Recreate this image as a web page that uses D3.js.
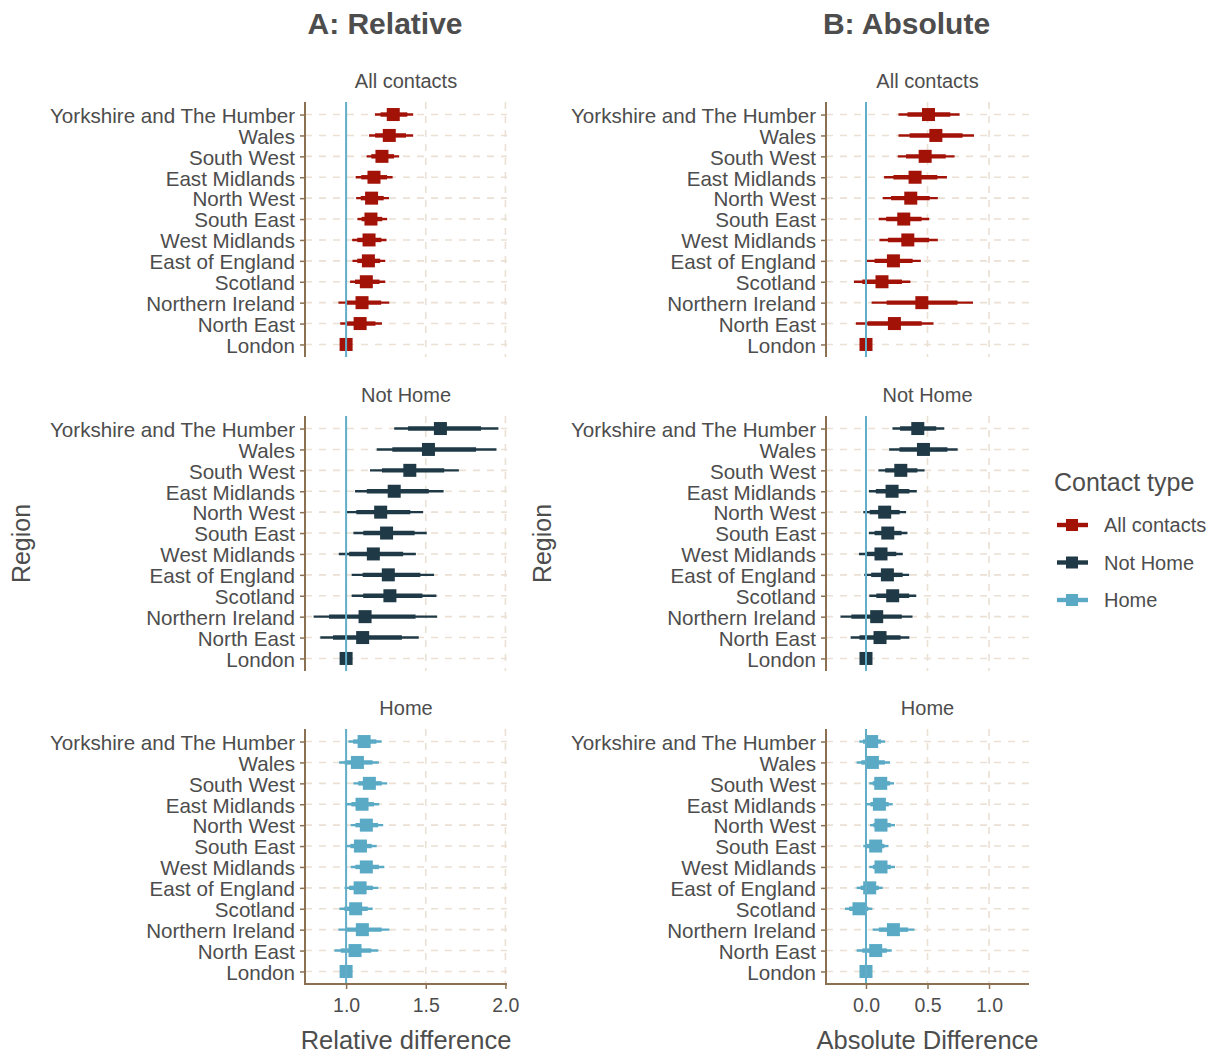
<!DOCTYPE html>
<html>
<head>
<meta charset="utf-8">
<script src="https://cdn.jsdelivr.net/npm/d3@7"></script>
<style>
  html, body { margin: 0; padding: 0; background: #ffffff; }
  svg { display: block; font-family: "Liberation Sans", Arial, sans-serif; }
</style>
</head>
<body>
<svg id="chart" width="1214" height="1053"></svg>
<script>
// Regions, top to bottom
const regions = [
  "Yorkshire and The Humber", "Wales", "South West", "East Midlands",
  "North West", "South East", "West Midlands", "East of England",
  "Scotland", "Northern Ireland", "North East", "London"
];

const contactTypes = ["All contacts", "Not Home", "Home"];

// Each row: [estimate, outer low, outer high, inner low, inner high], in region order
const relativeAll = [
  [1.296, 1.181, 1.421, 1.216, 1.384],
  [1.271, 1.144, 1.421, 1.182, 1.376],
  [1.225, 1.129, 1.333, 1.158, 1.301],
  [1.175, 1.060, 1.292, 1.095, 1.257],
  [1.160, 1.063, 1.269, 1.092, 1.236],
  [1.156, 1.071, 1.258, 1.097, 1.227],
  [1.144, 1.038, 1.254, 1.070, 1.221],
  [1.140, 1.040, 1.246, 1.070, 1.214],
  [1.127, 1.025, 1.246, 1.056, 1.210],
  [1.100, 0.952, 1.271, 0.996, 1.220],
  [1.088, 0.963, 1.225, 1.001, 1.184],
  [1.000, 1.000, 1.000, 1.000, 1.000]
];
const relativeNotHome = [
  [1.592, 1.302, 1.956, 1.389, 1.847],
  [1.517, 1.192, 1.944, 1.290, 1.816],
  [1.400, 1.150, 1.708, 1.225, 1.616],
  [1.302, 1.056, 1.612, 1.130, 1.519],
  [1.217, 0.998, 1.483, 1.064, 1.403],
  [1.254, 1.046, 1.506, 1.108, 1.430],
  [1.171, 0.954, 1.438, 1.019, 1.358],
  [1.265, 1.035, 1.552, 1.104, 1.466],
  [1.275, 1.035, 1.567, 1.107, 1.479],
  [1.119, 0.796, 1.571, 0.893, 1.436],
  [1.104, 0.838, 1.456, 0.918, 1.350],
  [1.000, 1.000, 1.000, 1.000, 1.000]
];
const relativeHome = [
  [1.113, 1.015, 1.223, 1.044, 1.190],
  [1.071, 0.956, 1.206, 0.991, 1.166],
  [1.146, 1.046, 1.258, 1.076, 1.224],
  [1.100, 1.004, 1.208, 1.033, 1.175],
  [1.127, 1.029, 1.233, 1.058, 1.201],
  [1.090, 1.000, 1.192, 1.027, 1.161],
  [1.127, 1.029, 1.240, 1.058, 1.206],
  [1.088, 0.990, 1.202, 1.019, 1.168],
  [1.060, 0.958, 1.167, 0.989, 1.136],
  [1.102, 0.952, 1.271, 0.997, 1.223],
  [1.056, 0.927, 1.202, 0.966, 1.158],
  [1.000, 1.000, 1.000, 1.000, 1.000]
];
const absoluteAll = [
  [0.508, 0.264, 0.761, 0.337, 0.685],
  [0.568, 0.264, 0.878, 0.355, 0.785],
  [0.481, 0.258, 0.720, 0.325, 0.648],
  [0.399, 0.147, 0.658, 0.223, 0.580],
  [0.364, 0.136, 0.584, 0.204, 0.518],
  [0.307, 0.103, 0.514, 0.164, 0.452],
  [0.340, 0.109, 0.584, 0.178, 0.513],
  [0.223, 0.005, 0.446, 0.070, 0.379],
  [0.130, -0.098, 0.361, -0.030, 0.292],
  [0.454, 0.046, 0.870, 0.168, 0.744],
  [0.231, -0.082, 0.549, 0.012, 0.453],
  [0.000, 0.000, 0.000, 0.000, 0.000]
];
const absoluteNotHome = [
  [0.421, 0.215, 0.636, 0.277, 0.571],
  [0.467, 0.188, 0.745, 0.272, 0.662],
  [0.283, 0.101, 0.476, 0.156, 0.418],
  [0.212, 0.024, 0.413, 0.080, 0.353],
  [0.152, -0.022, 0.326, 0.030, 0.274],
  [0.177, 0.024, 0.337, 0.070, 0.289],
  [0.122, -0.057, 0.299, -0.003, 0.246],
  [0.174, -0.014, 0.351, 0.042, 0.298],
  [0.217, 0.027, 0.408, 0.084, 0.351],
  [0.087, -0.207, 0.378, -0.119, 0.291],
  [0.114, -0.125, 0.353, -0.053, 0.281],
  [0.000, 0.000, 0.000, 0.000, 0.000]
];
const absoluteHome = [
  [0.046, -0.054, 0.155, -0.024, 0.122],
  [0.052, -0.076, 0.196, -0.038, 0.153],
  [0.120, 0.027, 0.228, 0.055, 0.196],
  [0.109, 0.005, 0.217, 0.036, 0.185],
  [0.122, 0.033, 0.236, 0.060, 0.202],
  [0.079, -0.022, 0.182, 0.008, 0.150],
  [0.122, 0.027, 0.236, 0.056, 0.202],
  [0.030, -0.076, 0.136, -0.044, 0.104],
  [-0.057, -0.171, 0.052, -0.137, 0.019],
  [0.223, 0.054, 0.394, 0.105, 0.343],
  [0.079, -0.076, 0.209, -0.030, 0.170],
  [0.000, 0.000, 0.000, 0.000, 0.000]
];

const relativeTicks = [1.0, 1.5, 2.0];
const absoluteTicks = [0.0, 0.5, 1.0];

// Styling
const colours = { "All contacts": "#A21207", "Not Home": "#1F3A46", "Home": "#5AAAC5" };
const refColour = "#62ADC8";
const axisColour = "#8B7152";
const gridColour = "#EAE0D4";
const textColour = "#4D4D4D";

const svg = d3.select("#chart");

const columns = [
  { title: "A: Relative", xTitle: "Relative difference", domain: [0.742, 2.01], range: [305, 507],
    ref: 1, ticks: relativeTicks, fmt: d3.format(".1f"), regionX: 30,
    data: [relativeAll, relativeNotHome, relativeHome] },
  { title: "B: Absolute", xTitle: "Absolute Difference", domain: [-0.325, 1.325], range: [826, 1029],
    ref: 0, ticks: absoluteTicks, fmt: d3.format(".1f"), regionX: 551,
    data: [absoluteAll, absoluteNotHome, absoluteHome] }
];

const panelTops = [102, 416, 729];
const panelHeight = 255;

columns.forEach(col => {
  const x = d3.scaleLinear().domain(col.domain).range(col.range);
  const midX = (col.range[0] + col.range[1]) / 2;

  // column title
  svg.append("text")
    .attr("x", midX - 21).attr("y", 34)
    .attr("text-anchor", "middle")
    .attr("font-size", 30).attr("font-weight", "bold")
    .attr("fill", textColour)
    .text(col.title);

  contactTypes.forEach((ct, i) => {
    const top = panelTops[i];
    const y = d3.scalePoint().domain(regions).range([top, top + panelHeight]).padding(0.6);
    const g = svg.append("g");
    const rows = col.data[i].map((r, k) => ({ region: regions[k], est: r[0], lo: r[1], hi: r[2], ilo: r[3], ihi: r[4] }));

    // strip label
    g.append("text")
      .attr("x", midX).attr("y", top - 14)
      .attr("text-anchor", "middle")
      .attr("font-size", 20).attr("fill", textColour)
      .text(ct);

    // horizontal dashed grid
    g.selectAll("line.hgrid").data(regions).join("line")
      .attr("x1", col.range[0]).attr("x2", col.range[1])
      .attr("y1", d => y(d)).attr("y2", d => y(d))
      .attr("stroke", gridColour).attr("stroke-width", 1.6)
      .attr("stroke-dasharray", "7,7");

    // vertical dashed grid
    g.selectAll("line.vgrid").data(col.ticks).join("line")
      .attr("x1", d => x(d)).attr("x2", d => x(d))
      .attr("y1", top).attr("y2", top + panelHeight)
      .attr("stroke", gridColour).attr("stroke-width", 1.6)
      .attr("stroke-dasharray", "7,7");

    // y axis
    const yAxis = g.append("g")
      .attr("transform", `translate(${col.range[0]},0)`)
      .call(d3.axisLeft(y).tickSize(5).tickPadding(5).tickSizeOuter(0));
    yAxis.select(".domain").remove();
    yAxis.append("line")
      .attr("x1", 0).attr("x2", 0).attr("y1", top).attr("y2", top + panelHeight)
      .attr("stroke", axisColour).attr("stroke-width", 2);
    yAxis.selectAll(".tick line").attr("stroke", axisColour).attr("stroke-width", 1.5);
    yAxis.selectAll(".tick text")
      .attr("font-size", 20.6).attr("fill", textColour).attr("dy", "0.38em")
      .attr("font-family", "Liberation Sans, Arial, sans-serif");

    const colour = colours[ct];
    // outer interval (thin)
    g.selectAll("line.outer").data(rows).join("line")
      .attr("x1", d => x(d.lo)).attr("x2", d => x(d.hi))
      .attr("y1", d => y(d.region)).attr("y2", d => y(d.region))
      .attr("stroke", colour).attr("stroke-width", 2.4);
    // inner interval (thick)
    g.selectAll("line.inner").data(rows).join("line")
      .attr("x1", d => x(d.ilo)).attr("x2", d => x(d.ihi))
      .attr("y1", d => y(d.region)).attr("y2", d => y(d.region))
      .attr("stroke", colour).attr("stroke-width", 4.4);
    // point estimate
    const s = 13;
    g.selectAll("rect.pt").data(rows).join("rect")
      .attr("x", d => x(d.est) - s / 2).attr("y", d => y(d.region) - s / 2)
      .attr("width", s).attr("height", s)
      .attr("fill", colour);

    // reference line
    g.append("line")
      .attr("x1", x(col.ref)).attr("x2", x(col.ref))
      .attr("y1", top).attr("y2", top + panelHeight)
      .attr("stroke", refColour).attr("stroke-width", 2);

    // y-axis title
    if (i === 1) {
      svg.append("text")
        .attr("transform", `translate(${col.regionX},${top + panelHeight / 2}) rotate(-90)`)
        .attr("text-anchor", "middle")
        .attr("font-size", 25).attr("fill", textColour)
        .text("Region");
    }

    // x axis on the bottom row
    if (i === 2) {
      const xAxis = g.append("g")
        .attr("transform", `translate(0,${top + panelHeight})`)
        .call(d3.axisBottom(x).tickValues(col.ticks).tickFormat(col.fmt).tickSize(5).tickPadding(9).tickSizeOuter(0));
      xAxis.select(".domain").remove();
      xAxis.append("line")
        .attr("x1", col.range[0] - 1).attr("x2", col.range[1])
        .attr("stroke", axisColour).attr("stroke-width", 2);
      xAxis.selectAll(".tick line").attr("stroke", axisColour).attr("stroke-width", 1.5);
      xAxis.selectAll(".tick text")
        .attr("font-size", 19.5).attr("fill", textColour)
        .attr("font-family", "Liberation Sans, Arial, sans-serif");

      svg.append("text")
        .attr("x", midX).attr("y", 1049)
        .attr("text-anchor", "middle")
        .attr("font-size", 25.5).attr("fill", textColour)
        .text(col.xTitle);
    }
  });
});

// legend
const legend = svg.append("g");
legend.append("text")
  .attr("x", 1054).attr("y", 491)
  .attr("font-size", 25).attr("fill", textColour)
  .text("Contact type");
const legendY = d3.scalePoint().domain(contactTypes).range([525, 600]);
contactTypes.forEach(ct => {
  const yy = legendY(ct);
  legend.append("line")
    .attr("x1", 1057).attr("x2", 1088).attr("y1", yy).attr("y2", yy)
    .attr("stroke", colours[ct]).attr("stroke-width", 4.4);
  legend.append("rect")
    .attr("x", 1066).attr("y", yy - 6).attr("width", 12).attr("height", 12)
    .attr("fill", colours[ct]);
  legend.append("text")
    .attr("x", 1104).attr("y", yy + 7)
    .attr("font-size", 20).attr("fill", textColour)
    .text(ct);
});
</script>
</body>
</html>
